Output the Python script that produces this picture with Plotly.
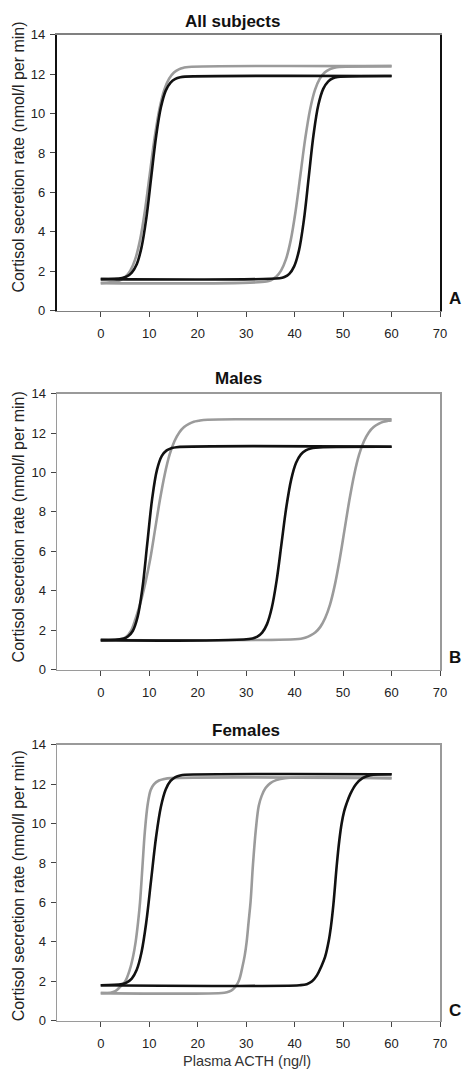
import plotly.graph_objects as go

# ---------------- data ----------------
x_ticks = [0, 10, 20, 30, 40, 50, 60, 70]
y_ticks = [0, 2, 4, 6, 8, 10, 12, 14]
panel_titles = ["All subjects", "Males", "Females"]
panel_letters = ["A", "B", "C"]

# Panel A (all subjects)
A_black1_x = [0, 4.4, 5.4, 6.4, 7.4, 8.4, 9.4, 10.4, 11.4, 12.4, 13.4, 14.4, 15.4, 16.4, 17.4, 60]
A_black1_y = [1.6, 1.66, 1.74, 1.93, 2.34, 3.20, 4.69, 6.75, 8.81, 10.30, 11.16, 11.57, 11.76, 11.84, 11.87, 11.9]
A_gray1_x = [0, 3.1, 4.1, 5.1, 6.1, 7.1, 8.1, 9.1, 10.1, 11.1, 12.1, 13.1, 14.1, 15.1, 16.1, 17.1, 18.1, 60]
A_gray1_y = [1.4, 1.48, 1.56, 1.72, 2.03, 2.60, 3.58, 5.05, 6.9, 8.75, 10.22, 11.20, 11.77, 12.08, 12.24, 12.32, 12.36, 12.4]
A_black2_x = [0, 36.9, 37.9, 38.9, 39.9, 40.9, 41.9, 42.9, 43.9, 44.9, 45.9, 46.9, 47.9, 48.9, 60]
A_black2_y = [1.6, 1.65, 1.71, 1.87, 2.25, 3.06, 4.58, 6.75, 8.92, 10.44, 11.25, 11.62, 11.79, 11.85, 11.9]
A_gray2_x = [0, 34.2, 35.2, 36.2, 37.2, 38.2, 39.2, 40.2, 41.2, 42.2, 43.2, 44.2, 45.2, 46.2, 47.2, 48.2, 49.2, 60]
A_gray2_y = [1.4, 1.48, 1.56, 1.72, 2.03, 2.60, 3.58, 5.05, 6.9, 8.75, 10.22, 11.20, 11.77, 12.08, 12.24, 12.32, 12.36, 12.4]

# Panel B (males)
B_black1_x = [0, 4.6, 5.6, 6.6, 7.6, 8.6, 9.6, 10.6, 11.6, 12.6, 13.6, 14.6, 15.6, 60]
B_black1_y = [1.5, 1.57, 1.68, 1.96, 2.67, 4.14, 6.4, 8.66, 10.13, 10.84, 11.12, 11.23, 11.28, 11.3]
B_gray1_x = [0, 3.2, 4.2, 5.2, 6.2, 7.2, 8.2, 9.2, 10.2, 11.2, 12.2, 13.2, 14.2, 15.2, 16.2, 17.2, 18.2, 19.2, 20.2, 21.2, 30, 60]
B_gray1_y = [1.5, 1.52, 1.55, 1.65, 1.95, 2.6, 3.4, 4.4, 5.6, 7.1, 8.6, 9.9, 10.9, 11.58, 12.03, 12.30, 12.46, 12.57, 12.62, 12.66, 12.7, 12.7]
B_black2_x = [0, 31.3, 32.3, 33.3, 34.3, 35.3, 36.3, 37.3, 38.3, 39.3, 40.3, 41.3, 42.3, 43.3, 44.3, 60]
B_black2_y = [1.5, 1.58, 1.68, 1.88, 2.31, 3.15, 4.54, 6.4, 8.26, 9.65, 10.49, 10.92, 11.12, 11.22, 11.26, 11.3]
B_gray2_x = [0, 41.3, 42.3, 43.3, 44.3, 45.3, 46.3, 47.3, 48.3, 49.3, 50.3, 51.3, 52.3, 53.3, 54.3, 55.3, 56.3, 57.3, 58.3, 59.3, 60]
B_gray2_y = [1.5, 1.57, 1.63, 1.74, 1.90, 2.17, 2.62, 3.30, 4.30, 5.60, 7.1, 8.60, 9.90, 10.90, 11.58, 12.03, 12.30, 12.46, 12.57, 12.62, 12.64]

# Panel C (females)
C_black1_x = [0, 4.4, 5.4, 6.4, 7.4, 8.4, 9.4, 10.4, 11.4, 12.4, 13.4, 14.4, 15.4, 16.4, 17.4, 60]
C_black1_y = [1.8, 1.86, 1.95, 2.14, 2.57, 3.46, 5.01, 7.15, 9.29, 10.84, 11.73, 12.16, 12.35, 12.44, 12.47, 12.5]
C_gray1_x = [0, 2.0, 3.0, 4.0, 5.0, 6.0, 6.7, 7.2, 7.7, 8.1, 8.6, 9.1, 9.7, 10.3, 11.0, 12.0, 13.0, 14.5, 60]
C_gray1_y = [1.4, 1.42, 1.5, 1.72, 1.98, 2.6, 3.3, 4.0, 5.0, 6.0, 7.8, 9.6, 11.0, 11.7, 12.0, 12.18, 12.25, 12.3, 12.3]
C_gray2_x = [0, 25.5, 26.5, 27.3, 28.0, 28.6, 29.2, 29.7, 30.1, 30.5, 30.9, 31.4, 32.0, 32.6, 33.2, 34.0, 35.0, 36.2, 38.0, 60]
C_gray2_y = [1.4, 1.42, 1.48, 1.6, 1.8, 2.1, 2.7, 3.3, 4.0, 5.0, 6.0, 7.9, 9.7, 10.9, 11.4, 11.8, 12.05, 12.2, 12.3, 12.3]
C_black2_x = [0, 41.0, 42.5, 43.6, 44.6, 45.5, 46.3, 47.0, 47.5, 48.0, 48.7, 49.2, 49.7, 50.2, 50.7, 51.5, 52.7, 54.0, 55.6, 60]
C_black2_y = [1.8, 1.8, 1.85, 2.0, 2.3, 2.75, 3.25, 4.0, 4.8, 5.9, 7.9, 9.1, 10.0, 10.6, 11.0, 11.5, 12.0, 12.3, 12.45, 12.5]

panels = [
    [(A_gray1_x, A_gray1_y, "gray"), (A_gray2_x, A_gray2_y, "gray"),
     (A_black1_x, A_black1_y, "black"), (A_black2_x, A_black2_y, "black")],
    [(B_gray1_x, B_gray1_y, "gray"), (B_gray2_x, B_gray2_y, "gray"),
     (B_black1_x, B_black1_y, "black"), (B_black2_x, B_black2_y, "black")],
    [(C_gray1_x, C_gray1_y, "gray"), (C_gray2_x, C_gray2_y, "gray"),
     (C_black1_x, C_black1_y, "black"), (C_black2_x, C_black2_y, "black")],
]

# ---------------- layout geometry ----------------
W, H = 469, 1081
FONT = "Liberation Sans, Arial, sans-serif"
COLORS = {"gray": "#9b9b9b", "black": "#111111"}

x_left, x_right = 58.0, 446.7
plot_tops = [28, 392, 748]
plot_h = 280
title_y = [15, 377, 734]
title_x = [236, 242, 250]
ytitle_y = [152, 527, 891]
letter_y = [296, 660, 1018]

fig = go.Figure()

for i, traces in enumerate(panels):
    n = "" if i == 0 else str(i + 1)
    for xs, ys, c in traces:
        fig.add_trace(go.Scatter(
            x=xs, y=ys, mode="lines",
            line=dict(color=COLORS[c], width=2.6, shape="spline", smoothing=1.0),
            xaxis="x" + n, yaxis="y" + n, showlegend=False, hoverinfo="skip"))

    top = plot_tops[i]
    bot = top + plot_h
    ydom = [1 - bot / H, 1 - top / H]
    xdom = [x_left / W, x_right / W]
    if i == 0:
        xline, xlw, yline, ylw = "#808080", 1.6, "#111111", 2.2
    else:
        xline, xlw, yline, ylw = "#9a9a9a", 1.6, "#9a9a9a", 1.6

    fig.update_layout(**{
        "xaxis" + n: dict(
            domain=xdom, range=[-9, 70], anchor="y" + n,
            tickmode="array", tickvals=x_ticks,
            ticktext=[str(v) for v in x_ticks],
            ticks="outside", ticklen=5, tickwidth=1, tickcolor="#444",
            showline=True, linecolor=xline, linewidth=xlw, mirror=True,
            showgrid=False, zeroline=False,
            tickfont=dict(family=FONT, size=13, color="#222"),
            ticklabelstandoff=5),
        "yaxis" + n: dict(
            domain=ydom, range=[0, 14], anchor="x" + n,
            tickmode="array", tickvals=y_ticks,
            ticktext=[str(v) for v in y_ticks],
            ticks="outside", ticklen=5, tickwidth=1, tickcolor="#444",
            showline=True, linecolor=yline, linewidth=ylw, mirror=True,
            showgrid=False, zeroline=False,
            tickfont=dict(family=FONT, size=13, color="#222"),
            ticklabelstandoff=2),
    })

    fig.add_annotation(text="<b>%s</b>" % panel_titles[i], x=title_x[i] / W,
                       y=1 - title_y[i] / H, xref="paper", yref="paper",
                       xanchor="center", yanchor="middle", showarrow=False,
                       font=dict(family=FONT, size=17, color="#111"))
    fig.add_annotation(text="Cortisol secretion rate (nmol/l per min)",
                       x=19 / W, y=1 - ytitle_y[i] / H, xref="paper", yref="paper",
                       xanchor="center", yanchor="middle", textangle=-90,
                       showarrow=False,
                       font=dict(family=FONT, size=16, color="#222"))
    fig.add_annotation(text="<b>%s</b>" % panel_letters[i], x=462 / W,
                       y=1 - letter_y[i] / H, xref="paper", yref="paper",
                       xanchor="center", yanchor="middle", showarrow=False,
                       font=dict(family=FONT, size=17, color="#111"))

fig.add_annotation(text="Plasma ACTH (ng/l)", x=251 / W, y=1 - 1069 / H,
                   xref="paper", yref="paper", xanchor="center", yanchor="middle",
                   showarrow=False, font=dict(family=FONT, size=14.5, color="#333"))

fig.update_layout(width=W, height=H, margin=dict(l=0, r=0, t=0, b=0),
                  paper_bgcolor="white", plot_bgcolor="white")

fig.write_html("out.html",
               config={"displayModeBar": False, "staticPlot": True},
               post_script="document.body.style.margin='0';"
                           "document.body.style.overflow='hidden';")
